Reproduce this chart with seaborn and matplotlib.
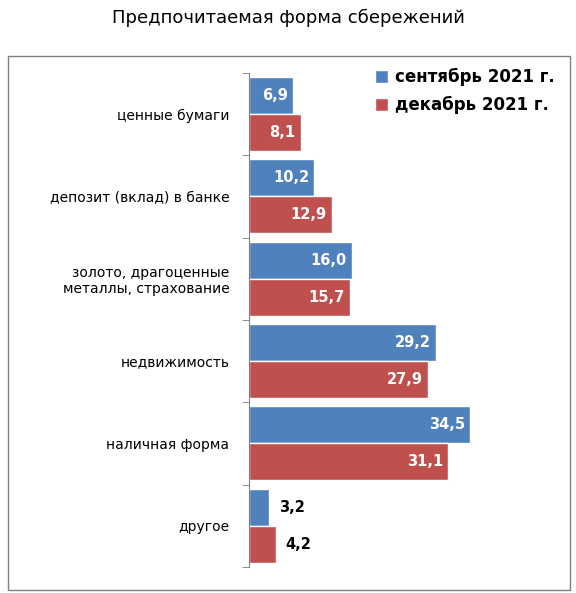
import matplotlib
matplotlib.use("Agg")
import matplotlib.pyplot as plt
import seaborn as sns
import pandas as pd
from matplotlib.patches import Rectangle

categories = ["ценные бумаги", "депозит (вклад) в банке", "золото, драгоценные\nметаллы, страхование",
              "недвижимость", "наличная форма", "другое"]
sep2021 = [6.9, 10.2, 16.0, 29.2, 34.5, 3.2]
dec2021 = [8.1, 12.9, 15.7, 27.9, 31.1, 4.2]
series = ["сентябрь 2021 г.", "декабрь 2021 г."]
colors = ["#4F81BD", "#C0504D"]

df = pd.DataFrame({
    "cat": categories * 2,
    "val": sep2021 + dec2021,
    "ser": [series[0]] * 6 + [series[1]] * 6,
})

sns.set_style("white")
plt.rcParams['font.family'] = ['DejaVu Sans']
plt.rcParams['text.color'] = 'black'
fig = plt.figure(figsize=(5.76, 5.93), dpi=100)
ax = fig.add_axes([0.432, 0.044, 0.535, 0.833])
sns.barplot(data=df, y="cat", x="val", hue="ser", orient="h", palette=colors,
            width=0.9, ax=ax, legend=True, saturation=1)
ax.set_xlim(0, 48)
ax.set_xlabel(""); ax.set_ylabel("")
ax.set_xticks([])
for s in ["top", "right", "bottom"]:
    ax.spines[s].set_visible(False)
ax.spines["left"].set_color("#808080")
ax.set_yticks([i + 0.5 for i in range(-1, 6)], minor=True)
ax.tick_params(axis="y", which="minor", length=5, color="#808080", left=True)
ax.tick_params(axis="y", which="major", length=0, labelsize=10, pad=14, labelcolor="black")
ax.set_ylim(5.5, -0.5)

for ci, cont in enumerate(ax.containers):
    for bar in cont:
        w = bar.get_width()
        yc = bar.get_y() + bar.get_height() / 2
        txt = f"{w:.1f}".replace(".", ",")
        if w < 5:
            ax.text(w + 1.5, yc, txt, ha="left", va="center", fontsize=10.5, fontweight="bold", color="black")
        else:
            ax.text(w - 0.8, yc, txt, ha="right", va="center", fontsize=10.5, fontweight="bold", color="white")

leg = ax.legend(loc="upper right", bbox_to_anchor=(1.04, 1.04), frameon=False, fontsize=12,
                handlelength=0.8, handleheight=0.8, handletextpad=0.4, labelspacing=0.6)
for t in leg.get_texts():
    t.set_fontweight("bold")
    t.set_color("black")

fig.text(0.5, 0.97, "Предпочитаемая форма сбережений", ha="center", va="center", fontsize=13, color="black")
fig.patches.append(Rectangle((0.014, 0.005), 0.975, 0.9, transform=fig.transFigure,
                             fill=False, edgecolor="#808080", lw=1))
fig.savefig("out.png", dpi=100)
